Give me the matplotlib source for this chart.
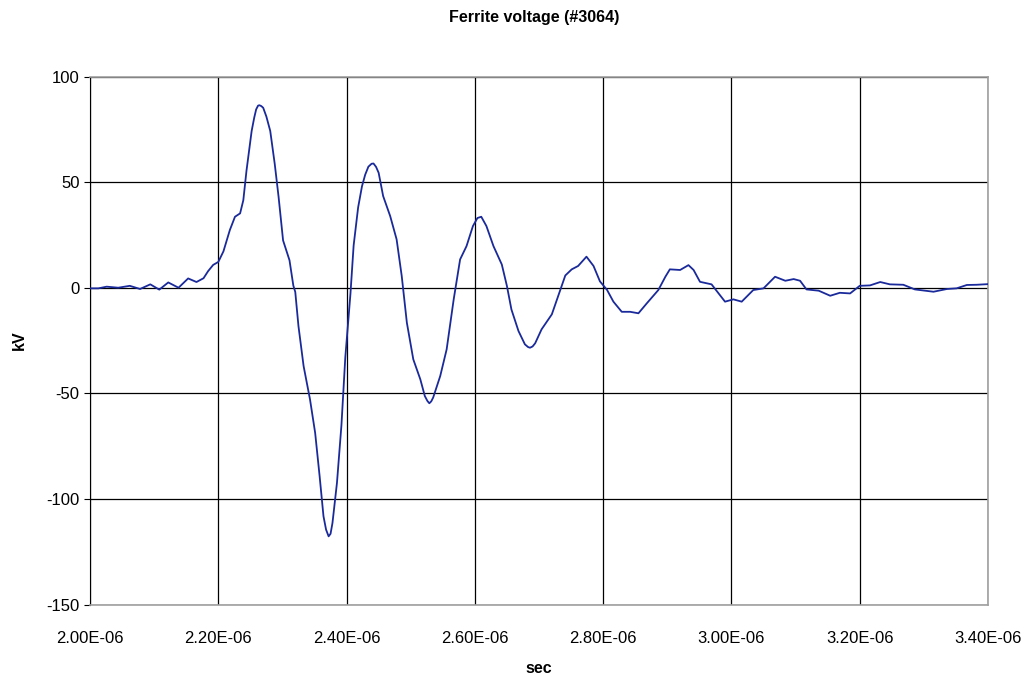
import matplotlib
matplotlib.use('Agg')
import matplotlib.pyplot as plt
from matplotlib.ticker import FuncFormatter
import numpy as np

plt.rcParams['font.family'] = ['Liberation Sans', 'DejaVu Sans']
plt.rcParams['axes.unicode_minus'] = False

# time in microseconds, voltage in kV
time_us = [2.000, 2.013, 2.026, 2.044, 2.062, 2.078, 2.094, 2.108, 2.122, 2.138,
           2.153, 2.166, 2.177, 2.184, 2.192, 2.200, 2.208, 2.218, 2.226, 2.234,
           2.239, 2.244, 2.252, 2.256, 2.259, 2.262, 2.264, 2.267, 2.270, 2.275,
           2.281, 2.288, 2.294, 2.301,
           2.311, 2.317, 2.320, 2.325, 2.333, 2.343, 2.351, 2.358, 2.364, 2.368,
           2.372, 2.375, 2.378, 2.385, 2.392, 2.398, 2.406, 2.411, 2.418, 2.424,
           2.429, 2.434, 2.439, 2.442,
           2.446, 2.450, 2.457, 2.468, 2.478, 2.486, 2.494, 2.504, 2.515, 2.522,
           2.526, 2.529, 2.532,
           2.535, 2.546, 2.556, 2.567, 2.577, 2.587, 2.597, 2.604, 2.610, 2.618,
           2.629, 2.642, 2.650, 2.657, 2.668, 2.678, 2.683, 2.686, 2.690, 2.694,
           2.704, 2.720,
           2.730, 2.741, 2.751, 2.761, 2.774, 2.785, 2.795, 2.806, 2.816, 2.829,
           2.842, 2.855, 2.868, 2.886, 2.897, 2.904, 2.920, 2.933, 2.941, 2.951,
           2.969, 2.980, 2.990, 3.003, 3.016, 3.034, 3.050, 3.068, 3.084, 3.097,
           3.107, 3.117, 3.136, 3.154, 3.169, 3.185, 3.200, 3.216, 3.232, 3.247,
           3.268, 3.286, 3.315, 3.336, 3.351, 3.367, 3.382, 3.400]
volt_kv = [-0.3, -0.3, 0.5, 0.0, 0.9, -0.6, 1.6, -0.9, 2.5, 0.0,
           4.4, 2.7, 4.5, 7.8, 10.8, 12.2, 17.2, 27.3, 33.6, 35.2,
           41.4, 55.5, 74.2, 80.5, 84.4, 86.2, 86.4, 86.0, 85.2, 81.0,
           74.2, 58.6, 43.0, 22.4,
           13.0, 1.0, -2.0, -18.2, -37.1, -52.9, -68.7, -89.3, -108.2, -114.5,
           -117.7, -116.5, -111.4, -92.4, -65.0, -33.0, -3.0, 20.0, 38.0, 48.0,
           53.5, 57.3, 58.7, 58.8,
           57.2, 54.4, 43.4, 33.9, 22.9, 5.5, -16.6, -33.9, -43.4, -51.3,
           -53.6, -54.7, -53.8,
           -52.0, -41.8, -29.2, -5.5, 13.4, 19.7, 29.2, 33.0, 33.6, 29.2,
           19.7, 11.0, 0.8, -10.3, -20.5, -26.8, -28.1, -28.4, -27.8, -26.3,
           -19.7, -12.6,
           -3.9, 5.8, 8.7, 10.3, 14.7, 10.3, 3.0, -1.0, -6.6, -11.4,
           -11.4, -12.1, -7.4, -1.1, 5.2, 8.7, 8.4, 10.7, 8.4, 2.8,
           1.6, -2.7, -6.6, -5.5, -6.6, -1.1, -0.3, 5.2, 3.3, 4.1,
           3.3, -0.8, -1.4, -3.8, -2.4, -2.7, 0.9, 1.1, 2.7, 1.6,
           1.4, -0.8, -1.9, -0.6, -0.3, 1.3, 1.4, 1.7]

t = np.array(time_us) * 1e-6

fig = plt.figure(figsize=(10.31, 6.77), dpi=100)
ax = fig.add_axes([0.0873, 0.107, 0.871, 0.780])

ax.plot(t, volt_kv, color='#1a2a9a', lw=1.3, zorder=3,
        solid_joinstyle='round', solid_capstyle='round')

ax.set_xlim(2.0e-6, 3.4e-6)
ax.set_ylim(-150, 100)
ax.set_xticks(np.arange(2.0e-6, 3.41e-6, 0.2e-6))
ax.set_yticks(np.arange(-150, 101, 50))
ax.xaxis.set_major_formatter(FuncFormatter(lambda x, p: '%.2E' % x))

ax.grid(True, color='black', lw=0.9, zorder=1)
for side in ['top', 'right', 'bottom']:
    ax.spines[side].set_color('#a0a0a0')
    ax.spines[side].set_linewidth(1.2)
ax.spines['left'].set_color('black')
ax.tick_params(axis='both', labelsize=12, color='black')
ax.tick_params(axis='y', length=4)
ax.tick_params(axis='x', length=0, pad=19)

fig.text(0.5185, 0.974, 'Ferrite voltage (#3064)', fontsize=11.5, fontweight='bold',
         ha='center', va='center')
ax.set_xlabel('sec', fontsize=11.5, fontweight='bold', labelpad=11)
ax.set_ylabel('kV', fontsize=11.5, fontweight='bold', labelpad=14)

fig.savefig('out.png', dpi=100)
